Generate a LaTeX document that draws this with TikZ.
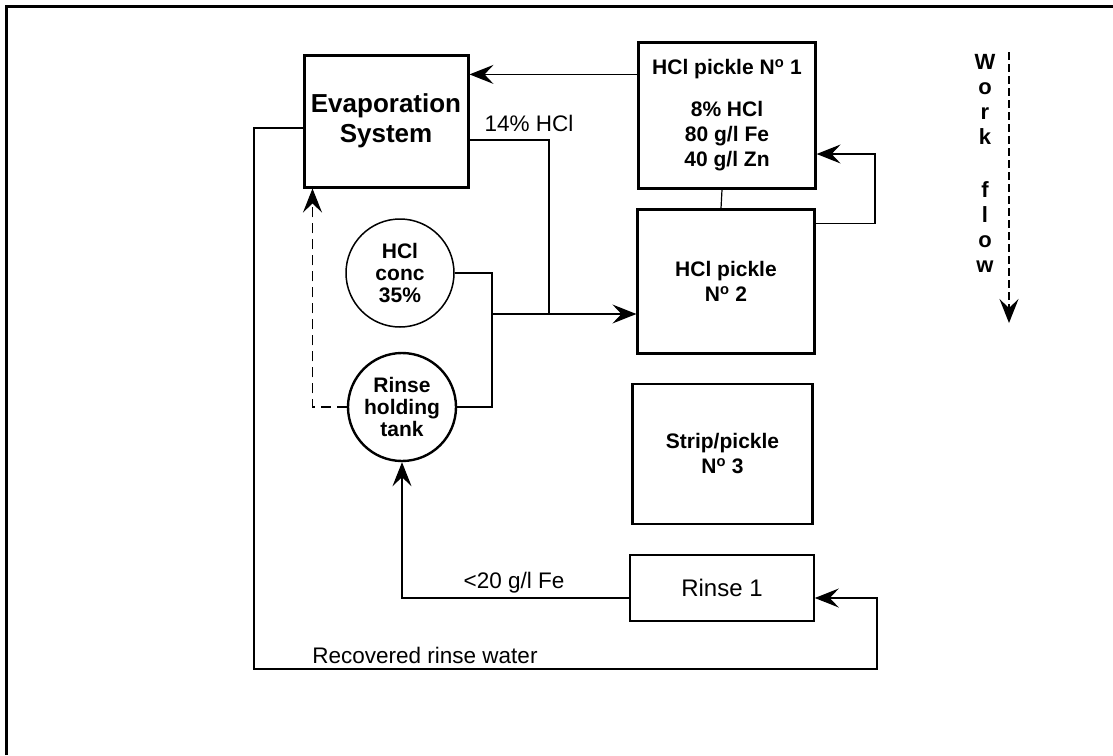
\documentclass[tikz,border=0pt]{standalone}
\usepackage{fontspec}
\setmainfont{Liberation Sans}
\usetikzlibrary{arrows.meta, positioning, calc}

\begin{document}
\begin{tikzpicture}[
    x=1pt, y=-1pt,
    font=\fontsize{21}{25}\selectfont,
    box/.style={
      draw,
      line width=2.2pt,
      inner sep=0pt,
      align=center,
      font=\bfseries\fontsize{21}{25}\selectfont,
    },
    tank/.style={
      draw,
      circle,
      line width=1.8pt,
      minimum size=108pt,
      inner sep=0pt,
      align=center,
      font=\bfseries\fontsize{21}{22}\selectfont,
    },
    pipe/.style={line width=1.2pt},
    flow/.style={pipe, -{Stealth[length=24pt, width=19pt, inset=9pt]}},
    lbl/.style={inner sep=0pt, font=\fontsize{22.5}{25}\selectfont},
  ]
    \useasboundingbox (0,0) rectangle (1113,755);
    \draw[line width=3pt] (6,755) -- (6,6) -- (1113,6);

    % ---- tanks ----
    \node[box, line width=3pt, minimum width=164pt, minimum height=132pt,
      font=\bfseries\fontsize{26}{30}\selectfont] (evap) at (386,121)
      {Evaporation\\System};
    \node[box, minimum width=177pt, minimum height=146pt] (p1) at (727,115.5)
      {HCl pickle N\textsuperscript{o} 1\\[17pt]8\% HCl\\80 g/l Fe\\40 g/l Zn};
    \node[box, minimum width=177pt, minimum height=144pt] (p2) at (726,281.5)
      {HCl pickle\\N\textsuperscript{o} 2};
    \node[box, minimum width=180pt, minimum height=140pt] (strip) at (722.5,454)
      {Strip/pickle\\N\textsuperscript{o} 3};
    \node[box, line width=1.6pt, minimum width=184pt, minimum height=66pt,
      font=\fontsize{24}{25}\selectfont] (rinse1) at (722,588) {Rinse 1};
    \node[tank, line width=1.5pt] (conc) at (400,273) {HCl\\conc\\35\%};
    \node[tank, line width=2.4pt] (hold) at (402,407) {Rinse\\holding\\tank};

    % ---- labels ----
    \node[lbl] (l14) at (529,123) {14\% HCl};
    \node[lbl] (l20) at (514,583) {<20 g/l Fe};
    \node[lbl] (lrw) at (425,655) {Recovered rinse water};
    \node[inner sep=0pt, align=center,
      font=\bfseries\fontsize{22}{25}\selectfont] (wf) at (985,163)
      {W\\o\\r\\k\\[28pt]f\\l\\o\\w};

    % ---- work flow ----
    \coordinate (wtop) at (1009,52);
    \coordinate (wbot) at (1009,323);
    \draw[flow, line width=1.5pt, dash pattern=on 8pt off 4pt] (wtop) -- (wbot);

    % ---- acid loop ----
    \coordinate (a1) at ([yshift=-33pt]p1.north west);
    \draw[flow] (a1) -- (a1 -| evap.east);
    \coordinate (j1) at (492,314);
    \coordinate (j2) at (549,314);
    \draw[pipe] ([yshift=-19pt]evap.east) -| (j2);
    \draw[pipe] (conc.east) -| (j1) |- (hold.east);
    \draw[flow] (j1) -- (j1 -| p2.west);
    \draw[pipe] ([xshift=-5pt]p1.south) -- ([xshift=-5pt]p2.north);
    \coordinate (fb) at (875,154);
    \draw[flow] ([yshift=-15pt]p2.north east) -| (fb) -- (fb -| p1.east);
    \draw[flow, dash pattern=on 10pt off 6pt]
      (hold.west) -| ([xshift=10pt]evap.south west);

    % ---- rinse loop ----
    \draw[flow] ([yshift=-10pt]rinse1.west) -| (hold.south);
    \coordinate (rw) at (254,669);
    \coordinate (re) at (877,669);
    \draw[flow] ([yshift=-7pt]evap.west) -| (rw) -- (re)
      |- ([yshift=-10pt]rinse1.east);
\end{tikzpicture}
\end{document}
